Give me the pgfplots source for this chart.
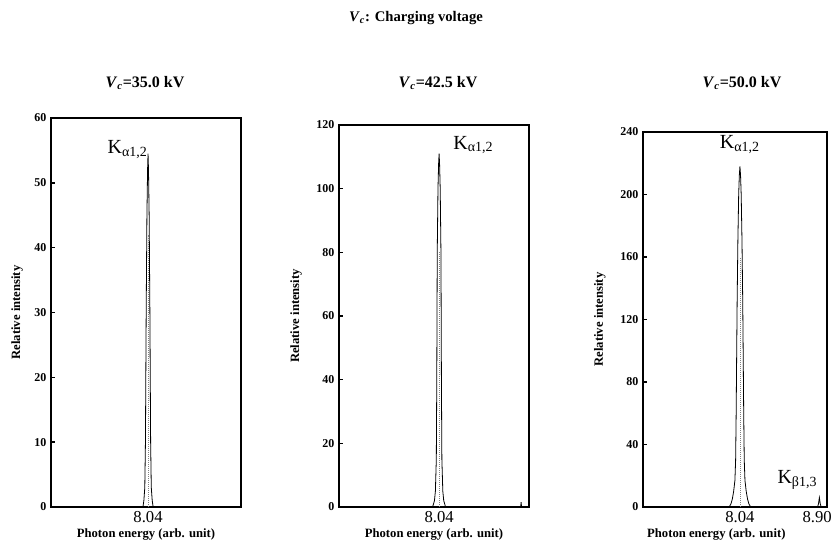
\documentclass[border=0pt]{standalone}
\usepackage{pgfplots}
\pgfplotsset{compat=1.18}
\usepackage{fontspec}
\setmainfont{Liberation Serif}
\newcommand{\Vc}{\textit{V}\textsubscript{\textit{c}}}
\pgfplotsset{
  panel/.style={
    scale only axis, anchor=south west, clip=false,
    axis line style={line width=1.3pt},
    ymin=0,
    xtick={8.04}, xticklabels={8.04},
    x tick style={draw=none},
    xticklabel style={font=\fontsize{12.5}{12.5}\selectfont, anchor=center, yshift=-7.5pt, inner sep=1pt},
    ytick pos=left, tick align=inside, major tick length=3pt,
    y tick style={line width=1pt, black},
    yticklabel style={font=\bfseries\fontsize{9}{9}\selectfont},
    /pgf/number format/assume math mode=true,
    xlabel={Photon energy (arb. unit)},
    ylabel={Relative intensity},
    xlabel style={font=\bfseries\fontsize{9.5}{10}\selectfont, at={(axis description cs:0.5,0)}, anchor=center, yshift=-20.5pt, inner sep=1pt},
    ylabel style={font=\bfseries\fontsize{9.5}{10}\selectfont, anchor=center},
  },
  peak/.style={black, line width=0.6pt, no marks},
  dots/.style={gray, densely dotted, line width=0.5pt, no marks},
}
\begin{document}
\begin{tikzpicture}
\useasboundingbox (0,0) rectangle (624.75pt,407.25pt);
\node[font=\bfseries\fontsize{11}{12}\selectfont] at (312pt,393.75pt) {\Vc: Charging voltage};
\node[font=\bfseries\fontsize{12}{13}\selectfont] at (108.75pt,345pt) {\Vc=35.0 kV};
\node[font=\bfseries\fontsize{12}{13}\selectfont] at (328.5pt,345pt) {\Vc=42.5 kV};
\node[font=\bfseries\fontsize{12}{13}\selectfont] at (556.5pt,345pt) {\Vc=50.0 kV};

% Panel 1
\begin{axis}[panel, at={(38.25pt,27pt)}, width=142.5pt, height=291.75pt,
  xmin=6.993, xmax=9.043, ymax=60, ytick={0,10,20,30,40,50,60},
  ylabel style={at={(axis description cs:-0.179,0.5)}}]
\addplot[peak] coordinates {
 (6.993,0) (7.985,0) (7.995,1) (8.005,3) (8.012,10) (8.020,30) (8.028,45) (8.035,52) (8.040,54.5)
 (8.045,52) (8.052,45) (8.060,30) (8.068,10) (8.075,3) (8.085,1) (8.095,0) (9.043,0)};
\addplot[dots] coordinates {(8.04,0) (8.04,42)};
\node[font=\fontsize{15}{16}\selectfont] at (axis cs:7.82,55.2) {K\textsubscript{α1,2}};
\end{axis}

% Panel 2
\begin{axis}[panel, at={(254.25pt,27pt)}, width=142.5pt, height=286.5pt,
  xmin=6.96, xmax=9.01, ymax=120, ytick={0,20,40,60,80,100,120},
  ylabel style={at={(axis description cs:-0.226,0.5)}}]
\addplot[peak] coordinates {
 (6.96,0) (7.970,0) (7.990,2) (8.000,5) (8.010,15) (8.015,40) (8.020,80) (8.028,100) (8.035,108) (8.040,111)
 (8.045,108) (8.052,100) (8.060,80) (8.065,40) (8.070,15) (8.080,5) (8.090,2) (8.110,0)
 (8.92,0) (8.925,1.5) (8.93,0) (9.01,0)};
\addplot[dots] coordinates {(8.04,0) (8.04,80)};
\node[font=\fontsize{15}{16}\selectfont] at (axis cs:8.41,113.7) {K\textsubscript{α1,2}};
\end{axis}

% Panel 3
\begin{axis}[panel, at={(482.25pt,27pt)}, width=138pt, height=281.25pt,
  xmin=6.96, xmax=9.01, ymax=240, ytick={0,40,80,120,160,200,240},
  xtick={8.04,8.90}, xticklabels={8.04,8.90},
  xlabel style={xshift=-14pt},
  ylabel style={at={(axis description cs:-0.234,0.5)}}]
\addplot[peak] coordinates {
 (6.96,0) (7.920,0) (7.940,2) (7.955,5) (7.970,10) (7.984,17) (7.992,30) (7.998,60) (8.004,100) (8.009,132)
 (8.017,170) (8.026,200) (8.033,212) (8.040,218)
 (8.047,212) (8.054,200) (8.063,170) (8.071,132) (8.076,100) (8.082,60) (8.088,30) (8.096,17) (8.110,10)
 (8.125,5) (8.140,2) (8.160,0)
 (8.905,0) (8.915,2) (8.925,6) (8.935,2) (8.945,0) (9.01,0)};
\addplot[dots] coordinates {(8.04,0) (8.04,160)};
\node[font=\fontsize{15}{16}\selectfont] at (axis cs:8.04,232) {K\textsubscript{α1,2}};
\node[font=\fontsize{15}{16}\selectfont] at (axis cs:8.68,17.3) {K\textsubscript{β1,3}};
\end{axis}
\end{tikzpicture}
\end{document}
